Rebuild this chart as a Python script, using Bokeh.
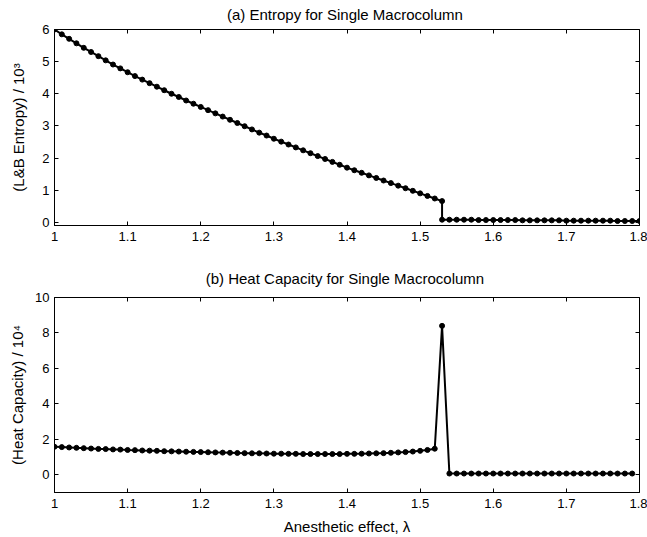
from bokeh.plotting import figure
from bokeh.layouts import column
from bokeh.models import LinearAxis, FixedTicker, Range1d, ColumnDataSource
from bokeh.embed import file_html
from bokeh.resources import INLINE

# ---------------- data ----------------
# panel (a): entropy, lambda 1.00 .. 1.53 (upper branch)
ent_x_hi = [1.00, 1.01, 1.02, 1.03, 1.04, 1.05, 1.06, 1.07, 1.08, 1.09,
            1.10, 1.11, 1.12, 1.13, 1.14, 1.15, 1.16, 1.17, 1.18, 1.19,
            1.20, 1.21, 1.22, 1.23, 1.24, 1.25, 1.26, 1.27, 1.28, 1.29,
            1.30, 1.31, 1.32, 1.33, 1.34, 1.35, 1.36, 1.37, 1.38, 1.39,
            1.40, 1.41, 1.42, 1.43, 1.44, 1.45, 1.46, 1.47, 1.48, 1.49,
            1.50, 1.51, 1.52, 1.53]
ent_y_hi = [6.00, 5.85, 5.71, 5.57, 5.43, 5.30, 5.17, 5.04, 4.91, 4.79,
            4.67, 4.55, 4.44, 4.33, 4.22, 4.11, 4.00, 3.90, 3.79, 3.69,
            3.59, 3.49, 3.39, 3.29, 3.19, 3.09, 2.99, 2.89, 2.79, 2.70,
            2.60, 2.51, 2.42, 2.33, 2.24, 2.15, 2.06, 1.97, 1.88, 1.79,
            1.70, 1.62, 1.54, 1.46, 1.38, 1.30, 1.22, 1.14, 1.06, 0.98,
            0.90, 0.82, 0.74, 0.66]
# lower branch 1.53 .. 1.80
ent_x_lo = [1.53, 1.54, 1.55, 1.56, 1.57, 1.58, 1.59, 1.60, 1.61, 1.62,
            1.63, 1.64, 1.65, 1.66, 1.67, 1.68, 1.69, 1.70, 1.71, 1.72,
            1.73, 1.74, 1.75, 1.76, 1.77, 1.78, 1.79, 1.80]
ent_y_lo = [0.08, 0.08, 0.08, 0.08, 0.08, 0.07, 0.07, 0.07, 0.07, 0.07,
            0.07, 0.06, 0.06, 0.06, 0.06, 0.06, 0.06, 0.05, 0.05, 0.05,
            0.05, 0.05, 0.05, 0.05, 0.04, 0.04, 0.04, 0.04]

# panel (b): heat capacity, lambda 1.00 .. 1.79
hc_x = [1.00, 1.01, 1.02, 1.03, 1.04, 1.05, 1.06, 1.07, 1.08, 1.09,
        1.10, 1.11, 1.12, 1.13, 1.14, 1.15, 1.16, 1.17, 1.18, 1.19,
        1.20, 1.21, 1.22, 1.23, 1.24, 1.25, 1.26, 1.27, 1.28, 1.29,
        1.30, 1.31, 1.32, 1.33, 1.34, 1.35, 1.36, 1.37, 1.38, 1.39,
        1.40, 1.41, 1.42, 1.43, 1.44, 1.45, 1.46, 1.47, 1.48, 1.49,
        1.50, 1.51, 1.52, 1.53, 1.54, 1.55, 1.56, 1.57, 1.58, 1.59,
        1.60, 1.61, 1.62, 1.63, 1.64, 1.65, 1.66, 1.67, 1.68, 1.69,
        1.70, 1.71, 1.72, 1.73, 1.74, 1.75, 1.76, 1.77, 1.78, 1.79]
hc_y = [1.58, 1.56, 1.54, 1.52, 1.50, 1.48, 1.46, 1.45, 1.43, 1.42,
        1.40, 1.39, 1.37, 1.36, 1.35, 1.33, 1.32, 1.31, 1.30, 1.29,
        1.28, 1.27, 1.26, 1.25, 1.24, 1.23, 1.22, 1.21, 1.21, 1.20,
        1.19, 1.19, 1.18, 1.18, 1.17, 1.17, 1.17, 1.17, 1.17, 1.17,
        1.18, 1.18, 1.19, 1.20, 1.21, 1.22, 1.24, 1.26, 1.28, 1.31,
        1.35, 1.40, 1.47, 8.40, 0.07, 0.07, 0.07, 0.07, 0.07, 0.07,
        0.07, 0.07, 0.07, 0.07, 0.07, 0.07, 0.07, 0.07, 0.07, 0.07,
        0.07, 0.07, 0.07, 0.07, 0.07, 0.07, 0.07, 0.07, 0.07, 0.07]

x_ticks = [1.0, 1.1, 1.2, 1.3, 1.4, 1.5, 1.6, 1.7, 1.8]
x_tick_labels = ["1", "1.1", "1.2", "1.3", "1.4", "1.5", "1.6", "1.7", "1.8"]
ya_ticks = [0, 1, 2, 3, 4, 5, 6]
yb_ticks = [0, 2, 4, 6, 8, 10]

FONT = "Liberation Sans"
W = 647


def mirror_axis(ticks):
    return LinearAxis(ticker=FixedTicker(ticks=ticks), major_tick_in=4, major_tick_out=0,
                      minor_tick_in=0, minor_tick_out=0,
                      major_label_overrides={t: "" for t in ticks},
                      major_label_text_color=None, major_label_text_font_size="1px",
                      major_label_standoff=0,
                      axis_line_color=None, major_tick_line_color="black")


def style(p, yticks):
    p.outline_line_color = "black"
    p.outline_line_width = 1
    p.xgrid.visible = False
    p.ygrid.visible = False
    p.xaxis.ticker = FixedTicker(ticks=x_ticks)
    p.xaxis.major_label_overrides = {t: l for t, l in zip(x_ticks, x_tick_labels)}
    p.yaxis.ticker = FixedTicker(ticks=yticks)
    for ax in (p.xaxis[0], p.yaxis[0]):
        ax.major_tick_in = 4
        ax.major_tick_out = 0
        ax.minor_tick_in = 0
        ax.minor_tick_out = 0
        ax.axis_line_color = "black"
        ax.major_tick_line_color = "black"
        ax.major_label_text_font = FONT
        ax.major_label_text_font_size = "13px"
        ax.major_label_text_color = "black"
        ax.axis_label_text_font = FONT
        ax.axis_label_text_font_size = "15px"
        ax.axis_label_text_font_style = "normal"
        ax.axis_label_text_color = "black"
    p.xaxis.major_label_standoff = 6
    p.yaxis.major_label_standoff = 5
    p.add_layout(mirror_axis(x_ticks), "above")
    p.add_layout(mirror_axis(yticks), "right")
    p.title.text_font = FONT
    p.title.text_font_size = "15px"
    p.title.text_font_style = "normal"
    p.title.align = "center"
    p.title.vertical_align = "top"
    p.title.text_color = "black"


# ---------------- panel (a) ----------------
p1 = figure(width=W, height=255, output_backend="svg", toolbar_location=None,
            x_range=Range1d(1.0, 1.8), y_range=Range1d(-0.1, 6.0),
            title="(a)  Entropy for Single Macrocolumn",
            min_border_left=54, min_border_right=8, min_border_top=29, min_border_bottom=30)
p1.yaxis.axis_label = "(L&B Entropy) / 10\u00b3"
p1.yaxis.axis_label_standoff = 12
style(p1, ya_ticks)
p1.title.standoff = 10

ent_x = ent_x_hi + ent_x_lo
ent_y = ent_y_hi + ent_y_lo
src1 = ColumnDataSource(dict(x=ent_x, y=ent_y))
p1.line("x", "y", source=src1, line_color="black", line_width=2)
p1.scatter("x", "y", source=src1, size=5, color="black")

# ---------------- panel (b) ----------------
p2 = figure(width=W, height=282, output_backend="svg", toolbar_location=None,
            x_range=Range1d(1.0, 1.8), y_range=Range1d(-1.0, 10.0),
            title="(b)  Heat Capacity for Single Macrocolumn",
            min_border_left=54, min_border_right=8, min_border_top=42, min_border_bottom=45)
p2.yaxis.axis_label = "(Heat Capacity) / 10\u2074"
p2.yaxis.axis_label_standoff = 6
p2.xaxis.axis_label = "Anesthetic effect, \u03bb"
p2.xaxis.axis_label_standoff = 7
style(p2, yb_ticks)
p2.title.standoff = 18

src2 = ColumnDataSource(dict(x=hc_x, y=hc_y))
p2.line("x", "y", source=src2, line_color="black", line_width=2)
p2.scatter("x", "y", source=src2, size=5, color="black")

layout = column(p1, p2)
open("out.html", "w").write(file_html(layout, INLINE))
